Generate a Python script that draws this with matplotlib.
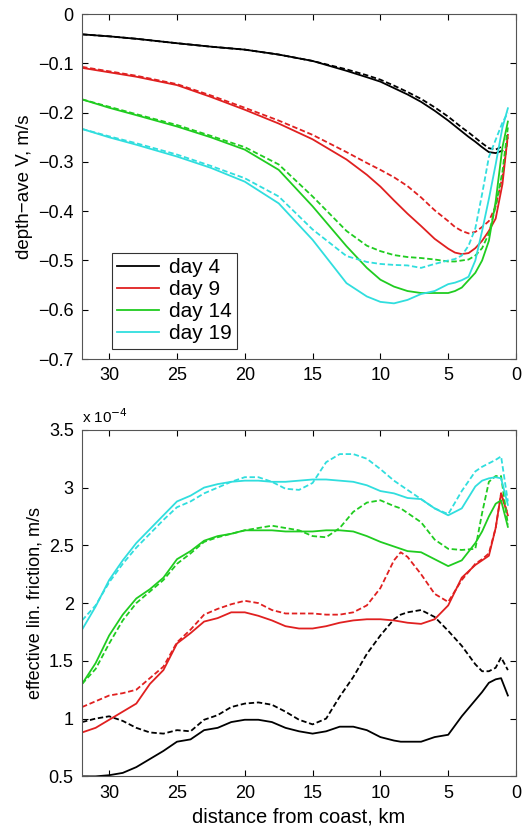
import matplotlib
matplotlib.use('Agg')
import matplotlib.pyplot as plt

plt.rcParams['font.family'] = ['Liberation Sans', 'DejaVu Sans']

nan = float('nan')
days = ['day 4', 'day 9', 'day 14', 'day 19']
colors = ['black', '#e02020', '#20cc20', '#30dede']

# top panel: depth-averaged V (m/s)
x_top = [32, 30, 28, 25, 22.5, 20, 17.5, 15, 12.5, 11, 10, 9, 8, 7, 6, 5, 4.5, 4, 3.5, 3, 2.5, 2, 1.5, 1, 0.6]
v_solid = [
    [-0.041, -0.045, -0.05, -0.059, -0.066, -0.072, -0.082, -0.095, -0.115, -0.128, -0.137, -0.15, -0.163, -0.178, -0.196, -0.216, -0.227, -0.238, -0.249, -0.259, -0.27, -0.28, -0.282, -0.277, nan],
    [-0.109, -0.118, -0.127, -0.144, -0.168, -0.194, -0.222, -0.254, -0.295, -0.326, -0.35, -0.378, -0.405, -0.43, -0.456, -0.476, -0.484, -0.487, -0.485, -0.475, -0.46, -0.44, -0.415, -0.345, -0.245],
    [-0.173, -0.19, -0.205, -0.228, -0.25, -0.275, -0.316, -0.39, -0.471, -0.515, -0.539, -0.553, -0.562, -0.566, -0.566, -0.566, -0.562, -0.555, -0.54, -0.525, -0.5, -0.46, -0.38, -0.27, -0.218],
    [-0.233, -0.25, -0.265, -0.289, -0.312, -0.34, -0.384, -0.458, -0.546, -0.573, -0.584, -0.587, -0.58, -0.568, -0.562, -0.548, -0.545, -0.54, -0.533, -0.5, -0.44, -0.375, -0.305, -0.23, -0.191],
]
v_dashed = [
    [-0.041, -0.045, -0.05, -0.059, -0.066, -0.072, -0.082, -0.095, -0.112, -0.124, -0.133, -0.145, -0.158, -0.172, -0.189, -0.208, -0.219, -0.23, -0.24, -0.251, -0.262, -0.272, -0.275, -0.268, nan],
    [-0.107, -0.116, -0.125, -0.142, -0.165, -0.19, -0.216, -0.245, -0.28, -0.302, -0.316, -0.331, -0.349, -0.372, -0.398, -0.42, -0.432, -0.44, -0.445, -0.442, -0.432, -0.42, -0.39, -0.33, -0.25],
    [-0.173, -0.188, -0.203, -0.225, -0.247, -0.27, -0.305, -0.37, -0.44, -0.47, -0.481, -0.489, -0.493, -0.495, -0.498, -0.502, -0.502, -0.5, -0.498, -0.49, -0.475, -0.445, -0.39, -0.32, -0.23],
    [-0.233, -0.248, -0.262, -0.285, -0.308, -0.333, -0.37, -0.437, -0.491, -0.503, -0.507, -0.509, -0.51, -0.515, -0.507, -0.5, -0.497, -0.49, -0.47, -0.435, -0.365, -0.29, -0.255, -0.22, -0.2],
]

# bottom panel: effective linear friction (x 1e-4 m/s)
x_bot = [32, 31, 30, 29, 28, 27, 26, 25, 24, 23, 22, 21, 20, 19, 18, 17, 16, 15, 14, 13, 12, 11, 10, 9, 8.5, 8,
         7, 6, 5, 4, 3, 2.5, 2, 1.5, 1.1, 0.6]
r_solid = [
    [0.5, 0.5, 0.51, 0.53, 0.58, 0.65, 0.72, 0.8, 0.82, 0.9, 0.92, 0.97, 0.99, 0.99, 0.97, 0.92, 0.89, 0.87, 0.89, 0.93, 0.93, 0.9, 0.84, 0.81, 0.8, 0.8,
     0.8, 0.84, 0.86, 1.02, 1.16, 1.23, 1.31, 1.34, 1.35, 1.2],
    [0.88, 0.92, 0.99, 1.06, 1.13, 1.3, 1.42, 1.65, 1.74, 1.84, 1.87, 1.92, 1.92, 1.89, 1.85, 1.8, 1.78, 1.78, 1.8, 1.83, 1.85, 1.86, 1.86, 1.85, 1.84, 1.83,
     1.82, 1.86, 1.98, 2.22, 2.33, 2.37, 2.41, 2.65, 2.95, 2.76],
    [1.3, 1.48, 1.72, 1.9, 2.04, 2.12, 2.22, 2.38, 2.45, 2.54, 2.58, 2.6, 2.63, 2.63, 2.63, 2.62, 2.62, 2.62, 2.63, 2.63, 2.62, 2.58, 2.53, 2.49, 2.47, 2.45,
     2.44, 2.38, 2.32, 2.37, 2.52, 2.62, 2.75, 2.86, 2.89, 2.66],
    [1.77, 1.97, 2.2, 2.37, 2.52, 2.64, 2.76, 2.88, 2.93, 3.0, 3.03, 3.05, 3.06, 3.06, 3.05, 3.05, 3.06, 3.07, 3.07, 3.06, 3.05, 3.02, 2.97, 2.95, 2.93, 2.91,
     2.9, 2.82, 2.76, 2.82, 3.01, 3.06, 3.08, 3.09, 3.08, 2.85],
]
r_dashed = [
    [0.97, 1.0, 1.02, 0.98, 0.92, 0.88, 0.87, 0.9, 0.89, 0.99, 1.03, 1.1, 1.13, 1.14, 1.12, 1.06, 0.99, 0.95, 1.0, 1.19, 1.36, 1.56, 1.72, 1.86, 1.9, 1.92,
     1.94, 1.88, 1.76, 1.63, 1.47, 1.41, 1.41, 1.44, 1.53, 1.42],
    [1.1, 1.15, 1.2, 1.22, 1.25, 1.35, 1.45, 1.66, 1.77, 1.9, 1.95, 1.99, 2.02, 2.0, 1.94, 1.91, 1.91, 1.91, 1.9, 1.9, 1.92, 1.98, 2.13, 2.37, 2.44, 2.4,
     2.25, 2.08, 2.01, 2.2, 2.34, 2.38, 2.43, 2.65, 2.95, 2.77],
    [1.3, 1.43, 1.65, 1.85, 2.0, 2.1, 2.2, 2.34, 2.43, 2.53, 2.57, 2.6, 2.63, 2.65, 2.67, 2.65, 2.63, 2.58, 2.57, 2.65, 2.79, 2.87, 2.89, 2.84, 2.82, 2.78,
     2.7, 2.55, 2.47, 2.46, 2.47, 2.78, 3.05, 3.1, 3.1, 2.68],
    [1.85, 1.98, 2.18, 2.34, 2.48, 2.6, 2.72, 2.83, 2.88, 2.95, 3.0, 3.05, 3.09, 3.09, 3.05, 2.99, 2.98, 3.04, 3.22, 3.29, 3.29, 3.25, 3.16, 3.06, 3.02, 2.98,
     2.9, 2.82, 2.77, 2.97, 3.14, 3.18, 3.21, 3.24, 3.27, 2.88],
]

fig = plt.figure(figsize=(5.26, 8.33), dpi=100)
ax1 = fig.add_axes([0.156, 0.569, 0.825, 0.414])
ax2 = fig.add_axes([0.156, 0.068, 0.825, 0.416])

dash = (0, (3, 1.5))
for i in range(4):
    ax1.plot(x_top, v_solid[i], color=colors[i], lw=1.3, label=days[i])
    ax1.plot(x_top, v_dashed[i], color=colors[i], lw=1.3, ls=dash)
    ax2.plot(x_bot, r_solid[i], color=colors[i], lw=1.3)
    ax2.plot(x_bot, r_dashed[i], color=colors[i], lw=1.3, ls=dash)

for ax in (ax1, ax2):
    ax.set_xlim(32, 0)
    ax.set_xticks([30, 25, 20, 15, 10, 5, 0])
    ax.tick_params(direction='in', top=True, right=True, length=4, labelsize=13, pad=6)
    for s in ax.spines.values():
        s.set_color('#555555')

ax1.set_ylim(-0.7, 0)
ax1.set_yticks([-0.7, -0.6, -0.5, -0.4, -0.3, -0.2, -0.1, 0])
ax1.set_yticklabels(['\u22120.7', '\u22120.6', '\u22120.5', '\u22120.4', '\u22120.3', '\u22120.2', '\u22120.1', '0'])
ax1.set_ylabel('depth\u2212ave V, m/s', fontsize=13.5)
leg = ax1.legend(loc='lower left', bbox_to_anchor=(0.045, 0.0), fontsize=15, frameon=True,
                 fancybox=False, edgecolor='black', handlelength=2.0, handletextpad=0.5,
                 borderpad=0.25, labelspacing=0.15)
leg.get_frame().set_linewidth(0.8)

ax2.set_ylim(0.5, 3.5)
ax2.set_yticks([0.5, 1, 1.5, 2, 2.5, 3, 3.5])
ax2.set_yticklabels(['0.5', '1', '1.5', '2', '2.5', '3', '3.5'])
ax2.set_ylabel('effective lin. friction, m/s', fontsize=13)
ax2.set_xlabel('distance from coast, km', fontsize=14.5, labelpad=4)
ax2.text(0.0, 1.012, r'x 10$^{-4}$', transform=ax2.transAxes, fontsize=11, ha='left', va='bottom')

fig.savefig('out.png', dpi=100)
